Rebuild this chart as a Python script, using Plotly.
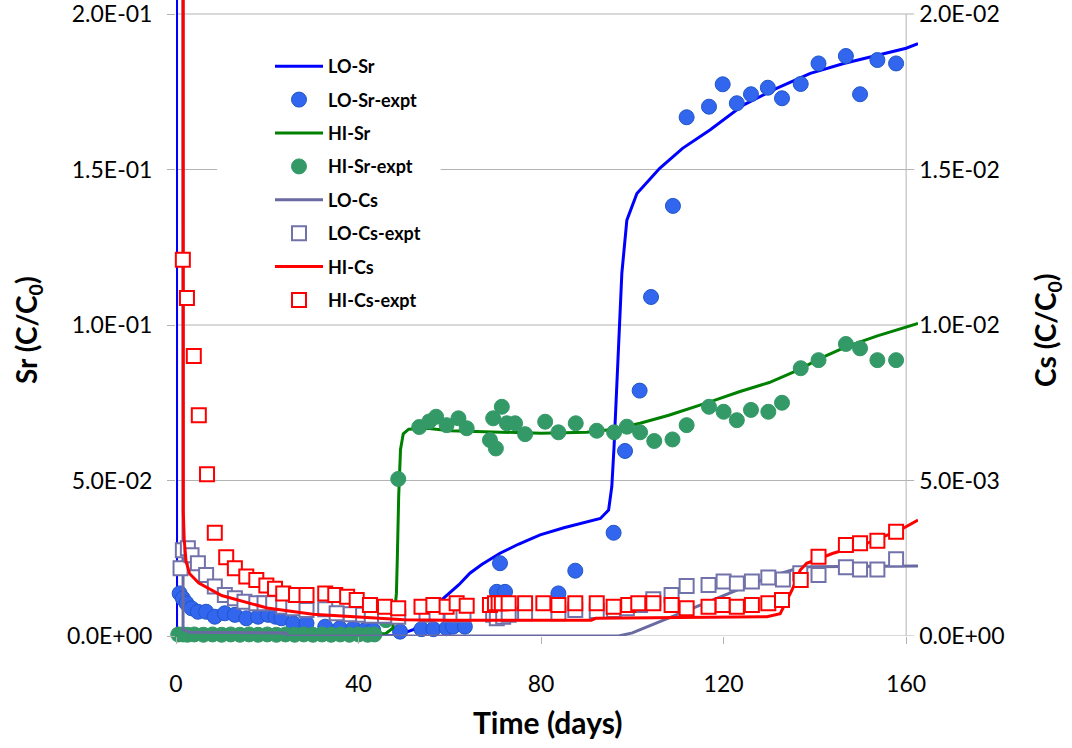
import plotly.graph_objects as go

# ---------------- data ----------------
# model curves (time in days)
LO_SR_T = [0.1, 0.12, 1, 10, 45, 48, 50, 52, 55, 58.6, 62, 64.4, 67, 71, 75, 79.8, 85, 90, 93, 94.8, 95.5, 96,
           96.6, 97.2, 97.7, 98.8, 101, 106, 111, 117, 124.3, 131.6, 139, 146.3, 153.6, 160, 162.6]
LO_SR = [1.0, 0.003, 0.0005, 0.0002, 0.0, 0.0002, 0.001, 0.002, 0.0055, 0.0121, 0.0165, 0.0202, 0.023, 0.0266,
         0.0295, 0.0325, 0.0348, 0.0366, 0.0378, 0.0405, 0.048, 0.061, 0.082, 0.100, 0.1166, 0.1337, 0.1423,
         0.1504, 0.1568, 0.1627, 0.1707, 0.1761, 0.1809, 0.1841, 0.1868, 0.189, 0.1905]

HI_SR_T = [0.3, 10, 30, 46, 47.5, 48.0, 48.3, 48.5, 48.8, 49.2, 49.8, 51, 55, 60, 70, 80, 90, 96, 101.7, 108,
           117, 123.6, 130, 136.8, 140.8, 146.8, 153.7, 160, 162.6]
HI_SR = [0.0005, 0.0004, 0.0004, 0.0008, 0.0025, 0.009, 0.0137, 0.025, 0.045, 0.060, 0.065, 0.0665, 0.0668,
         0.066, 0.0655, 0.0652, 0.0655, 0.0665, 0.0684, 0.071, 0.0753, 0.0786, 0.0815, 0.0858, 0.089, 0.093,
         0.0965, 0.0994, 0.1005]

LO_CS_T = [1.45, 1.55, 3, 24, 24.5, 97, 100, 105, 110, 115, 120, 125, 130, 135, 139, 162.6]
LO_CS = [0.05, 0.0002, 0.00012, 0.0001, 0.0, 0.0, 0.0001, 0.0004, 0.00068, 0.001, 0.0013, 0.0016, 0.0019,
         0.00212, 0.00223, 0.00225]

HI_CS_T = [1.55, 1.6, 1.8, 2.2, 3, 5, 10, 20, 30, 40, 50, 60, 91, 92, 115, 129.5, 132.4, 135, 136.8, 138.2,
           144, 151.4, 158.7, 162.6]
HI_CS = [0.05, 0.0040, 0.0031, 0.0024, 0.0020, 0.0017, 0.0013, 0.0009, 0.0007, 0.0006, 0.00052, 0.00051,
         0.00051, 0.00057, 0.0006, 0.00062, 0.00072, 0.00148, 0.00212, 0.00234, 0.00266, 0.00298, 0.00341,
         0.00373]

# experimental points
LO_SR_EXPT_T = [0.8, 1.5, 2.3, 3.4, 4.8, 6.6, 8.5, 10.7, 12.9, 15.4, 18.0, 20.2, 21.8, 23.1, 25.7, 28.6, 32.7,
                35.9, 38.9, 41.4, 43.2, 49.1, 53.8, 56.4, 59.3, 60.7, 63.3, 70.3, 71.0, 72.1, 83.8, 87.5, 95.9,
                98.4, 101.6, 104.1, 108.9, 111.9, 116.8, 119.8, 122.9, 126.0, 129.7, 132.8, 136.9, 140.8, 146.8,
                149.9, 153.7, 157.8]
LO_SR_EXPT = [0.0137, 0.0121, 0.0105, 0.0089, 0.0078, 0.0078, 0.0062, 0.0073, 0.0068, 0.0057, 0.0062, 0.0068,
              0.0062, 0.0057, 0.0041, 0.0041, 0.0030, 0.0025, 0.0025, 0.0019, 0.0019, 0.0014, 0.0022, 0.0022,
              0.0025, 0.0030, 0.0030, 0.0142, 0.0234, 0.0142, 0.0137, 0.0210, 0.0332, 0.0595, 0.0789, 0.1090,
              0.1383, 0.1668, 0.1702, 0.1774, 0.1713, 0.1742, 0.1763, 0.1729, 0.1775, 0.1841, 0.1865, 0.1742,
              0.1852, 0.1841]

HI_SR_EXPT_T = [0.5, 1.5, 2.5, 4, 6, 8, 10, 12, 14, 16, 18, 20, 22, 24, 26, 28, 30, 32, 34, 36, 38, 40, 42, 43.5,
                46.0, 48.7, 53.3, 55.5, 57.0, 59.3, 61.9, 63.7, 68.8, 69.5, 70.1, 71.4, 72.5, 74.3, 76.5, 80.9,
                83.8, 87.6, 92.2, 96.0, 98.8, 101.7, 104.8, 108.8, 111.9, 116.8, 120.0, 122.9, 126.0, 129.8,
                132.8, 136.9, 140.8, 146.8, 149.9, 153.7, 157.8]
HI_SR_EXPT = [0.0005, 0.0005, 0.0004, 0.0005, 0.0004, 0.0005, 0.0004, 0.0005, 0.0004, 0.0005, 0.0004, 0.0005,
              0.0004, 0.0005, 0.0004, 0.0005, 0.0004, 0.0005, 0.0004, 0.0005, 0.0004, 0.0005, 0.0004, 0.0005,
              0.0051, 0.0505, 0.0672, 0.0690, 0.0705, 0.0678, 0.0700, 0.0668, 0.0630, 0.0700, 0.0603, 0.0737,
              0.0684, 0.0684, 0.0649, 0.0689, 0.0655, 0.0684, 0.0660, 0.0655, 0.0673, 0.0655, 0.0627, 0.0632,
              0.0678, 0.0737, 0.0721, 0.0694, 0.0727, 0.0721, 0.0750, 0.0861, 0.0887, 0.0939, 0.0925, 0.0887,
              0.0887]

LO_CS_EXPT_T = [1.0, 1.5, 2.6, 3.4, 4.8, 6.6, 8.5, 10.7, 12.9, 15.0, 17.6, 19.4, 21.3, 23.5, 25.7, 28.6, 32.7,
                35.2, 38.3, 41.0, 42.9, 45.8, 48.7, 54.9, 57.1, 60.4, 63.0, 69.5, 70.3, 71.7, 72.9, 76.5, 83.8,
                87.5, 92.2, 96.0, 98.8, 101.7, 104.6, 108.6, 111.9, 116.7, 120.0, 122.9, 126.2, 129.8, 133.0,
                136.8, 140.8, 146.8, 149.9, 153.7, 157.8]
LO_CS_EXPT = [0.00218, 0.00276, 0.00282, 0.00260, 0.00234, 0.00196, 0.00159, 0.00132, 0.00121, 0.00110,
              0.00105, 0.00105, 0.00105, 0.00094, 0.00089, 0.00084, 0.00086, 0.00073, 0.00070, 0.00068, 0.00065,
              0.00065, 0.00062, 0.00068, 0.00073, 0.00068, 0.00068, 0.00068, 0.00057, 0.00062, 0.00068, 0.00073,
              0.00073, 0.00084, 0.00080, 0.00084, 0.00089, 0.00100, 0.00118, 0.00132, 0.00161, 0.00164, 0.00175,
              0.00169, 0.00175, 0.00188, 0.00182, 0.00202, 0.00196, 0.00221, 0.00214, 0.00214, 0.00247]

HI_CS_EXPT_T = [1.5, 2.4, 3.9, 5.0, 6.8, 8.5, 11.0, 12.9, 15.4, 17.6, 19.8, 21.7, 23.5, 26.3, 28.6, 32.7, 34.9,
                37.5, 39.6, 42.5, 45.8, 48.7, 53.8, 56.4, 59.3, 61.5, 63.7, 68.8, 69.9, 70.7, 71.4, 72.9, 76.5,
                80.5, 83.8, 87.5, 92.2, 95.9, 99.1, 101.3, 104.6, 108.6, 111.9, 116.7, 119.8, 122.9, 126.2, 129.8,
                132.8, 136.9, 140.8, 146.8, 149.9, 153.7, 157.8]
HI_CS_EXPT = [0.0121, 0.01087, 0.0090, 0.0071, 0.0052, 0.00332, 0.00253, 0.00218, 0.00191, 0.00180, 0.00162,
              0.00152, 0.00137, 0.00132, 0.00132, 0.00137, 0.00132, 0.00126, 0.00116, 0.00100, 0.00094, 0.00089,
              0.00094, 0.00100, 0.00094, 0.00105, 0.00097, 0.00100, 0.00105, 0.00105, 0.00105, 0.00105, 0.00105,
              0.00105, 0.00100, 0.00105, 0.00105, 0.00094, 0.00100, 0.00105, 0.00105, 0.00100, 0.00089, 0.00094,
              0.00100, 0.00094, 0.00100, 0.00105, 0.00116, 0.00180, 0.00255, 0.00293, 0.00298, 0.00306, 0.00335]

X_TICKS = [0, 40, 80, 120, 160]
Y1_TICKS = [0, 0.05, 0.10, 0.15, 0.20]
Y1_LABELS = ["0.0E+00", "5.0E-02", "1.0E-01", "1.5E-01", "2.0E-01"]
Y2_TICKS = [0, 0.005, 0.010, 0.015, 0.020]
Y2_LABELS = ["0.0E+00", "5.0E-03", "1.0E-02", "1.5E-02", "2.0E-02"]

# ---------------- layout constants ----------------
W, H = 1072, 748
ML, MR, MT, MB = 176, 154, 0, 112
XMAX = 162.6          # model curves run slightly past the last tick
XEND = 160
PLOT_H = H - MT - MB  # 636
PLOT_W = W - ML - MR
Y1_TOP = 0.2 * PLOT_H / (PLOT_H - 14)
Y2_TOP = Y1_TOP / 10
GRID = "#b3b3b3"
FONT = "Lato"

fig = go.Figure()

def line_trace(x, y, name, color, yaxis):
    return go.Scatter(x=x, y=y, mode="lines", name=name, yaxis=yaxis, legendgroup=name,
                      line=dict(color=color, width=3))

def marker_trace(x, y, name, symbol, fill, edge, size, lw, yaxis):
    return go.Scatter(x=x, y=y, mode="markers", name=name, yaxis=yaxis, legendgroup=name, cliponaxis=False,
                      marker=dict(symbol=symbol, size=size, color=fill, line=dict(color=edge, width=lw)))

fig.add_trace(line_trace(LO_SR_T, LO_SR, "LO-Sr", "#0000ff", "y"))
fig.add_trace(marker_trace(LO_SR_EXPT_T, LO_SR_EXPT, "LO-Sr-expt", "circle", "#3366ee", "#1f56c8", 15, 1, "y"))
fig.add_trace(line_trace(HI_SR_T, HI_SR, "HI-Sr", "#008000", "y"))
fig.add_trace(marker_trace(HI_SR_EXPT_T, HI_SR_EXPT, "HI-Sr-expt", "circle", "#339966", "#339966", 15, 1, "y"))
fig.add_trace(line_trace(LO_CS_T, LO_CS, "LO-Cs", "#6a6aa2", "y2"))
fig.add_trace(marker_trace(LO_CS_EXPT_T, LO_CS_EXPT, "LO-Cs-expt", "square", "white", "#7272aa", 14, 2, "y2"))
fig.add_trace(line_trace(HI_CS_T, HI_CS, "HI-Cs", "#ff0000", "y2"))
fig.add_trace(marker_trace(HI_CS_EXPT_T, HI_CS_EXPT, "HI-Cs-expt", "square", "white", "#ff0000", 14, 2, "y2"))

# gridlines / axis lines that stop at the last tick
shapes = []
def hline(y, x0, x1, yref="y"):
    shapes.append(dict(type="line", xref="x", yref=yref, x0=x0, x1=x1, y0=y, y1=y,
                       line=dict(color=GRID, width=1), layer="below"))

for v in Y1_TICKS[1:]:
    if v == 0.15:
        hline(v, 0, 9.0)       # the legend box hides this gridline in the original
        hline(v, 58.0, XEND)
    else:
        hline(v, 0, XEND)
hline(0, 0, XEND)
shapes.append(dict(type="line", xref="x", yref="y", x0=0, x1=0, y0=0, y1=0.2,
                   line=dict(color=GRID, width=1), layer="below"))
shapes.append(dict(type="line", xref="x", yref="y", x0=XEND, x1=XEND, y0=0, y1=0.2,
                   line=dict(color=GRID, width=1), layer="below"))
for v in Y2_TICKS:
    shapes.append(dict(type="line", xref="x", yref="y2", xsizemode="pixel", xanchor=XEND, x0=0, x1=8,
                       y0=v, y1=v, line=dict(color=GRID, width=1), layer="below"))

tickfont = dict(family=FONT, size=23, color="black")
titlefont = dict(family=FONT, size=28, color="black", weight="bold")
xtitlefont = dict(family=FONT, size=30, color="black", weight="bold")

fig.update_layout(
    width=W, height=H,
    margin=dict(l=ML, r=MR, t=MT, b=MB, pad=0),
    paper_bgcolor="white", plot_bgcolor="white",
    shapes=shapes,
    xaxis=dict(range=[0, XMAX], tickvals=X_TICKS, ticks="outside", ticklen=7, tickcolor=GRID,
               showgrid=False, zeroline=False, showline=False, tickfont=tickfont,
               ticklabelstandoff=20, automargin=False, ticklabeloverflow="allow"),
    yaxis=dict(range=[0, Y1_TOP], tickvals=Y1_TICKS, ticktext=Y1_LABELS, ticks="outside", ticklen=8,
               tickcolor=GRID, showgrid=False, zeroline=False, showline=False, tickfont=tickfont,
               ticklabelstandoff=10, automargin=False, ticklabeloverflow="allow"),
    yaxis2=dict(range=[0, Y2_TOP], tickvals=Y2_TICKS, ticktext=Y2_LABELS, overlaying="y", side="right",
                anchor="free", position=XEND / XMAX, ticks="", showgrid=False, zeroline=False,
                showline=False, tickfont=tickfont, ticklabelstandoff=12, automargin=False,
                ticklabeloverflow="allow"),
    legend=dict(x=(270 - ML) / PLOT_W, y=1 - 48 / PLOT_H, xanchor="left", yanchor="top",
                bgcolor="rgba(0,0,0,0)", font=dict(family=FONT, size=18, color="black", weight="bold"),
                itemwidth=48, tracegroupgap=7, traceorder="grouped"),
    annotations=[
        dict(text="Time (days)", xref="paper", yref="paper", x=0.5, y=(PLOT_H - 722) / PLOT_H,
             showarrow=False, font=xtitlefont, xanchor="center", yanchor="middle"),
        dict(text="Sr (C/C<sub>0</sub>)", xref="paper", yref="paper", x=(28 - ML) / PLOT_W,
             y=(PLOT_H - 330) / PLOT_H, textangle=-90, showarrow=False, font=titlefont,
             xanchor="center", yanchor="middle"),
        dict(text="Cs (C/C<sub>0</sub>)", xref="paper", yref="paper", x=(1047 - ML) / PLOT_W,
             y=(PLOT_H - 330) / PLOT_H, textangle=-90, showarrow=False, font=titlefont,
             xanchor="center", yanchor="middle"),
    ],
)

fig.write_html("out.html")
